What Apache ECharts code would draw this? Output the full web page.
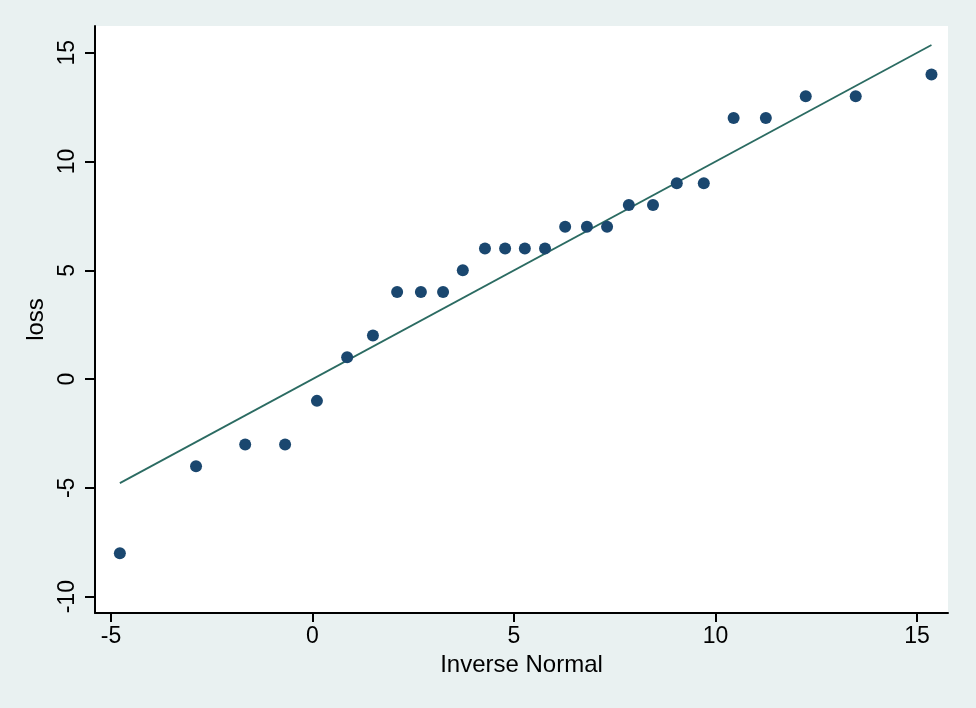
<!DOCTYPE html>
<html>
<head>
<meta charset="utf-8">
<script src="https://cdn.jsdelivr.net/npm/echarts@6/dist/echarts.min.js"></script>
<style>
html,body{margin:0;padding:0;background:#e9f1f1;}
#c{width:976px;height:708px;}
</style>
</head>
<body>
<div id="c"></div>
<script>
// Inverse normal quantiles (x) and sorted loss values (y)
const inverseNormal = [-4.78, -2.89, -1.67, -0.68, 0.11, 0.86, 1.50, 2.10, 2.69, 3.24, 3.73, 4.28, 4.78, 5.27, 5.77, 6.27, 6.81, 7.31, 7.85, 8.45, 9.04, 9.71, 10.45, 11.25, 12.24, 13.48, 15.36];
const loss = [-8, -4, -3, -3, -1, 1, 2, 4, 4, 4, 5, 6, 6, 6, 6, 7, 7, 7, 8, 8, 9, 9, 12, 12, 13, 13, 14];
const xTicks = [-5, 0, 5, 10, 15];
const yTicks = [-10, -5, 0, 5, 10, 15];
const xName = 'Inverse Normal';
const yName = 'loss';

const points = inverseNormal.map((x, i) => [x, loss[i]]);
const xmin = inverseNormal[0], xmax = inverseNormal[inverseNormal.length - 1];
const refLine = [[xmin, xmin], [xmax, xmax]];

const font = 'Liberation Sans, Arial, sans-serif';
const chart = echarts.init(document.getElementById('c'));
chart.setOption({
  backgroundColor: '#e9f1f1',
  animation: false,
  grid: {left: 95, top: 26, right: 28, bottom: 95, show: true, backgroundColor: '#ffffff', borderWidth: 0},
  xAxis: {
    type: 'value', min: -5.397, max: 15.77,
    name: xName, nameLocation: 'middle', nameGap: 37,
    nameTextStyle: {fontFamily: font, fontSize: 24, color: '#000'},
    axisLine: {show: true, onZero: false, lineStyle: {color: '#000', width: 2}},
    axisTick: {show: true, length: 9, lineStyle: {color: '#000', width: 2}, customValues: xTicks},
    axisLabel: {fontFamily: font, fontSize: 23, color: '#000', margin: 12, customValues: xTicks, showMinLabel: true, showMaxLabel: true},
    splitLine: {show: false}
  },
  yAxis: {
    type: 'value', min: -10.75, max: 16.23,
    name: yName, nameLocation: 'middle', nameGap: 43,
    nameTextStyle: {fontFamily: font, fontSize: 24, color: '#000'},
    axisLine: {show: true, onZero: false, lineStyle: {color: '#000', width: 2}},
    axisTick: {show: true, length: 10, lineStyle: {color: '#000', width: 2}, customValues: yTicks},
    axisLabel: {fontFamily: font, fontSize: 23, color: '#000', margin: 16, rotate: 90, customValues: yTicks, showMinLabel: true, showMaxLabel: true},
    splitLine: {show: false}
  },
  series: [
    {type: 'line', data: refLine, symbol: 'none', lineStyle: {color: '#2b6b62', width: 1.8}, z: 2},
    {type: 'scatter', data: points, symbol: 'circle', symbolSize: 12, itemStyle: {color: '#1a476f', opacity: 1}, z: 3}
  ]
});
</script>
</body>
</html>
